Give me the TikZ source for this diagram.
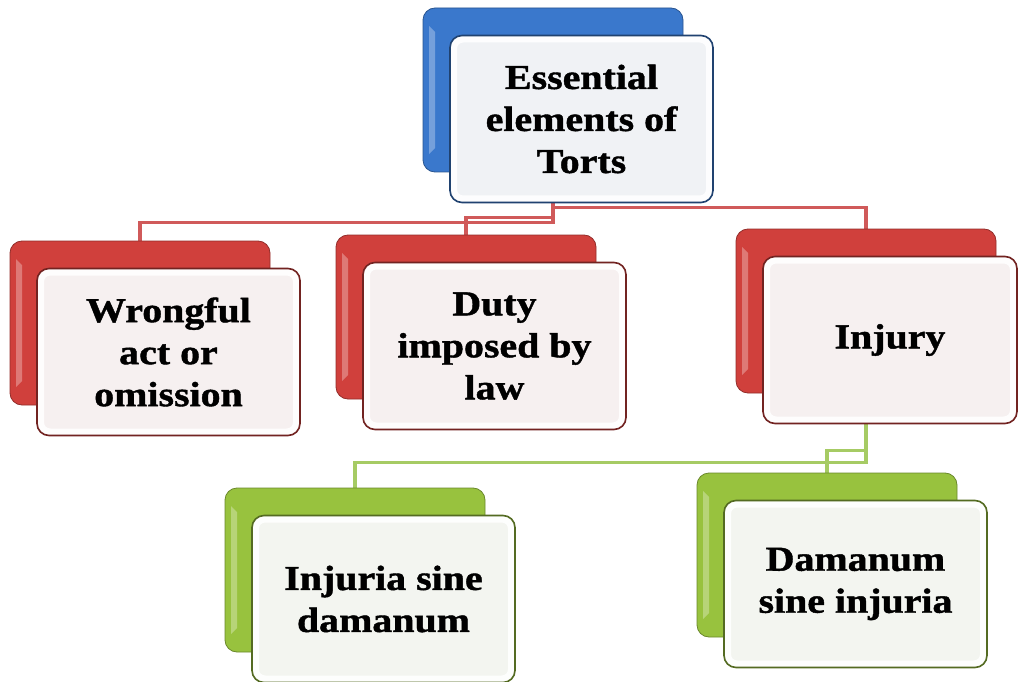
\documentclass[tikz,border=0pt]{standalone}
\usepackage{fontspec}
\newfontfamily\tortfont[FakeStretch=1.14, FakeBold=1.2]{Liberation Serif}
\definecolor{tblue}{HTML}{3A78CC}
\definecolor{tred}{HTML}{D0403C}
\definecolor{tgreen}{HTML}{98C23E}
\definecolor{redlink}{HTML}{D05A5A}
\definecolor{greenlink}{HTML}{A6CB64}
\usetikzlibrary{backgrounds}
\tikzset{
  backbox/.style={rounded corners=12pt, minimum width=260pt, minimum height=164pt,
    draw=#1!70!black, line width=0.8pt, fill=#1,
    path picture={\fill[white, opacity=0.3, sharp corners]
      ([xshift=6pt, yshift=-18pt]path picture bounding box.north west) --
      ([xshift=12pt, yshift=-24pt]path picture bounding box.north west) --
      ([xshift=12pt, yshift=24pt]path picture bounding box.south west) --
      ([xshift=6pt, yshift=18pt]path picture bounding box.south west) -- cycle;}},
  frontbox/.style={rounded corners=12pt, minimum height=167pt, draw=#1!55!black,
    line width=1.6pt, fill=#1!4!white!97!black, align=center, inner sep=0pt,
    font=\tortfont\bfseries\fontsize{35}{42}\selectfont,
    path picture={\draw[white, line width=6pt, rounded corners=9pt, opacity=0.9]
      ([shift={(4pt,-4pt)}]path picture bounding box.north west) rectangle
      ([shift={(-4pt,4pt)}]path picture bounding box.south east);}},
  link/.style={line width=3.5pt, #1}
}

\begin{document}
\begin{tikzpicture}[x=1pt, y=-1pt]
  \useasboundingbox (0,0) rectangle (1018,682);
  \foreach \nm/\x/\y/\c/\w/\txt in {
    top/553/90/tblue/263/{Essential\\elements of\\Torts},
    wrong/140/323/tred/263/{Wrongful\\act or\\omission},
    duty/466/317/tred/263/{Duty\\imposed by\\law},
    injury/866/311/tred/254/{Injury},
    injuria/355/570/tgreen/263/{Injuria sine\\damanum},
    damanum/827/555/tgreen/263/{Damanum\\sine injuria}} {
    \node[backbox=\c] (\nm-back) at (\x,\y) {};
    \node[frontbox=\c, minimum width=\w pt] (\nm) at ({\x-103+\w/2},\y+29) {\txt};
  }
  % connectors behind the boxes
  \begin{scope}[on background layer]
    \draw[link=redlink] (top-back.south) -- ++(0,35) -| (injury-back.north);
    \draw[link=redlink] (top-back.south) -- ++(0,45) -| (duty-back.north);
    \draw[link=redlink] (top-back.south) -- ++(0,50) -| (wrong-back.north);
    \draw[link=greenlink] (injury-back.south) -- ++(0,57) -| (damanum-back.north);
    \draw[link=greenlink] (injury-back.south) -- ++(0,69) -| (injuria-back.north);
  \end{scope}
\end{tikzpicture}
\end{document}
